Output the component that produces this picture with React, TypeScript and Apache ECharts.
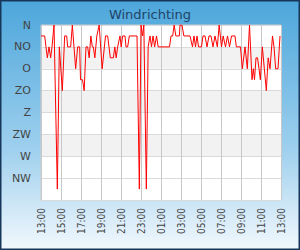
import React, { useEffect, useRef } from "react";
import * as echarts from "echarts";

// minutes since 13:00
const times = [
  0, 22, 38, 48, 58, 66, 78, 98, 110, 128, 142, 154, 160, 178, 188, 208, 220, 232, 237, 249,
  259, 270, 280, 289, 299, 308, 314, 323, 335, 349, 367, 387, 400, 416, 434, 443, 451, 460, 474, 481,
  490, 504, 510, 520, 530, 576, 590, 600, 609, 617, 632, 643, 654, 663, 672, 682, 693, 703, 771, 780,
  790, 799, 809, 830, 834, 846, 857, 894, 909, 918, 927, 936, 945, 963, 972, 984, 996, 1008, 1020, 1032,
  1044, 1058, 1069, 1083, 1093, 1107, 1119, 1131, 1143, 1164, 1172, 1197, 1208, 1224, 1238, 1251, 1266, 1274, 1281, 1290,
  1299, 1308, 1316, 1328, 1340, 1352, 1363, 1374, 1389, 1398, 1408, 1422, 1434,
];
// wind direction in degrees
const directions = [
  22.5, 22.5, 67.5, 45, 67.5, 45, 0, 337.5, 45, 135, 22.5, 22.5, 45, 45, 0, 90, 45, 45, 112.5, 112.5,
  135, 45, 45, 67.5, 22.5, 45, 45, 67.5, 22.5, 0, 90, 22.5, 22.5, 67.5, 67.5, 45, 67.5, 45, 22.5, 45,
  22.5, 22.5, 45, 45, 22.5, 22.5, 337.5, 0, 22.5, 0, 337.5, 45, 22.5, 45, 22.5, 45, 22.5, 45, 45, 22.5,
  22.5, 0, 22.5, 22.5, 0, 0, 22.5, 22.5, 45, 22.5, 45, 22.5, 45, 45, 22.5, 22.5, 45, 22.5, 22.5, 45,
  22.5, 45, 0, 45, 22.5, 45, 22.5, 45, 22.5, 22.5, 45, 45, 90, 45, 90, 0, 112.5, 90, 112.5, 67.5,
  67.5, 90, 112.5, 45, 90, 135, 67.5, 90, 22.5, 45, 90, 90, 22.5,
];
const directionLabels = ["N", "NO", "O", "ZO", "Z", "ZW", "W", "NW"];
const timeLabels = [
  "13:00", "15:00", "17:00", "19:00", "21:00", "23:00", "01:00",
  "03:00", "05:00", "07:00", "09:00", "11:00", "13:00",
];

export default function App() {
  const ref = useRef<HTMLDivElement>(null);
  useEffect(() => {
    document.body.style.margin = "0";
    const chart = echarts.init(ref.current!, null, { renderer: "svg" });
    const font = "DejaVu Sans";
    chart.setOption({
      animation: false,
      backgroundColor: new echarts.graphic.LinearGradient(0, 0, 0, 1, [
        { offset: 0, color: "#4ca6db" },
        { offset: 0.6, color: "#9fd0ee" },
        { offset: 1, color: "#f2f8fd" },
      ]),
      title: {
        text: "Windrichting",
        left: "center",
        top: 3,
        textStyle: { fontFamily: font, fontSize: 13, fontWeight: "normal", color: "#1f4468" },
      },
      graphic: [
        {
          type: "rect",
          shape: { x: 0.75, y: 0.75, width: 298.5, height: 248.5 },
          style: { fill: "none", stroke: "#17375a", lineWidth: 1.5 },
          z: 100,
        },
      ],
      grid: {
        left: 41,
        right: 19,
        top: 25,
        bottom: 50,
        show: true,
        backgroundColor: "#fff",
        borderColor: "#cccccc",
        borderWidth: 1,
      },
      xAxis: {
        type: "value",
        min: 0,
        max: 1440,
        interval: 120,
        axisLine: { show: false },
        axisTick: { show: false },
        axisLabel: {
          rotate: 90,
          margin: 8,
          fontFamily: "'DejaVu Sans Condensed', 'DejaVu Sans'",
          fontSize: 10,
          color: "#444",
          formatter: (v: number) => timeLabels[Math.round(v / 120)] ?? "",
        },
        splitLine: { show: true, lineStyle: { color: "#c8c8c8", width: 1 } },
      },
      yAxis: {
        type: "value",
        inverse: true,
        min: 0,
        max: 360,
        interval: 45,
        axisLine: { show: false },
        axisTick: { show: false },
        axisLabel: {
          margin: 10,
          fontFamily: font,
          fontSize: 11,
          color: "#444",
          formatter: (v: number) => directionLabels[Math.round(v / 45)] ?? "",
        },
        splitLine: { show: true, lineStyle: { color: "#dadada", width: 1 } },
        splitArea: {
          show: true,
          areaStyle: {
            color: ["#ffffff", "#f2f2f2", "#ffffff", "#f2f2f2", "#ffffff", "#f2f2f2", "#ffffff", "#ffffff"],
          },
        },
      },
      series: [
        {
          type: "line",
          data: times.map((t, i) => [t, directions[i]]),
          showSymbol: false,
          symbol: "none",
          lineStyle: { color: "#ff0000", width: 1 },
        },
      ],
    });
    return () => chart.dispose();
  }, []);
  return <div ref={ref} style={{ width: 300, height: 250 }} />;
}
